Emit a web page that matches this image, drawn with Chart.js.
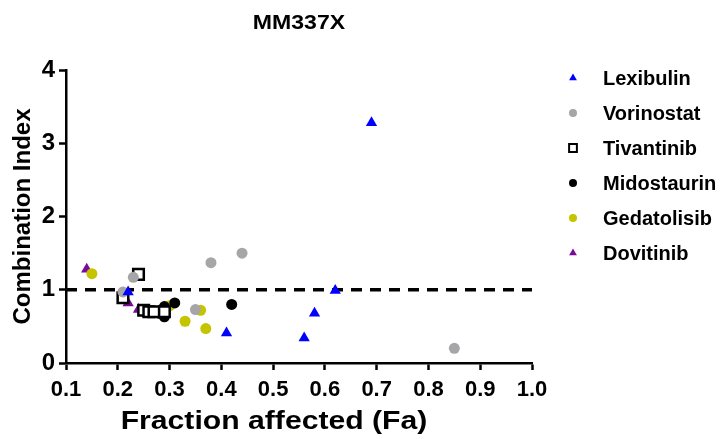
<!DOCTYPE html>
<html lang="en">
<head>
    <meta charset="UTF-8">
    <title>MM337X</title>
    <style>
        body {
            margin: 0;
            padding: 0;
            background: white;
        }
        .wrap {
            width: 724px;
            height: 439px;
            position: relative;
        }
    </style>
    <script src="https://cdn.jsdelivr.net/npm/chart.js"></script>
</head>
<body>
    <div class="wrap">
        <canvas id="ciChart" width="724" height="439"></canvas>
    </div>

    <script>
        // values: fraction affected (Fa) and combination index (CI)
        const chartTitle = 'MM337X';
        const xTitle = 'Fraction affected (Fa)';
        const yTitle = 'Combination Index';
        const drugNames = ['Lexibulin', 'Vorinostat', 'Tivantinib', 'Midostaurin', 'Gedatolisib', 'Dovitinib'];

        const lexibulinFa = [0.22, 0.41, 0.56, 0.58, 0.62, 0.69];
        const lexibulinCi = [0.97, 0.41, 0.34, 0.68, 0.99, 3.28];

        const vorinostatFa = [0.21, 0.23, 0.35, 0.38, 0.44, 0.85];
        const vorinostatCi = [0.97, 1.17, 0.73, 1.37, 1.50, 0.20];

        const tivantinibFa = [0.21, 0.24, 0.25, 0.26, 0.27, 0.29];
        const tivantinibCi = [0.89, 1.21, 0.72, 0.70, 0.70, 0.70];

        const midostaurinFa = [0.26, 0.28, 0.29, 0.29, 0.31, 0.42];
        const midostaurinCi = [0.70, 0.68, 0.63, 0.77, 0.82, 0.80];

        const gedatolisibFa = [0.15, 0.30, 0.33, 0.36, 0.37];
        const gedatolisibCi = [1.22, 0.78, 0.57, 0.72, 0.47];

        const dovitinibFa = [0.14, 0.22, 0.24, 0.25];
        const dovitinibCi = [1.28, 0.82, 0.73, 0.70];

        const xTicks = [0.1, 0.2, 0.3, 0.4, 0.5, 0.6, 0.7, 0.8, 0.9, 1.0];
        const yTicks = [0, 1, 2, 3, 4];
        const additivityLine = 1;

        const toPoints = (xs, ys) => xs.map((x, i) => ({ x: x, y: ys[i] }));

        const styles = [
            { color: '#0000ff', fill: '#0000ff', shape: 'triangle', r: 6.5, lr: 4.5, bw: 0 },
            { color: '#a6a6a9', fill: '#a6a6a9', shape: 'circle', r: 5.5, lr: 4, bw: 0 },
            { color: '#000000', fill: '#ffffff', shape: 'rect', r: 7.5, lr: 5.5, bw: 2.5 },
            { color: '#000000', fill: '#000000', shape: 'circle', r: 5.5, lr: 4, bw: 0 },
            { color: '#c4c400', fill: '#c4c400', shape: 'circle', r: 5.5, lr: 4, bw: 0 },
            { color: '#7b0a9a', fill: '#7b0a9a', shape: 'triangle', r: 6.5, lr: 4.5, bw: 0 }
        ];

        const seriesData = [
            toPoints(lexibulinFa, lexibulinCi),
            toPoints(vorinostatFa, vorinostatCi),
            toPoints(tivantinibFa, tivantinibCi),
            toPoints(midostaurinFa, midostaurinCi),
            toPoints(gedatolisibFa, gedatolisibCi),
            toPoints(dovitinibFa, dovitinibCi)
        ];

        const datasets = drugNames.map((name, i) => ({
            label: name,
            data: seriesData[i],
            showLine: false,
            pointStyle: styles[i].shape,
            pointRadius: styles[i].r,
            pointHoverRadius: styles[i].r,
            pointBackgroundColor: styles[i].fill,
            pointBorderColor: styles[i].color,
            pointBorderWidth: styles[i].bw,
            order: 0
        }));

        datasets.push({
            label: 'CI = 1',
            type: 'line',
            data: [{ x: xTicks[0], y: additivityLine }, { x: xTicks[xTicks.length - 1], y: additivityLine }],
            borderColor: '#000',
            borderWidth: 3.5,
            borderDash: [11, 8],
            pointRadius: 0,
            order: 1
        });

        const FONT = '"Liberation Sans", Arial, sans-serif';

        // legend on the right, title on top and x title (the original text is drawn a bit wide)
        const extras = {
            id: 'extras',
            afterDraw(chart) {
                const ctx = chart.ctx;
                const area = chart.chartArea;
                ctx.save();
                ctx.textBaseline = 'middle';
                ctx.font = 'bold 20px ' + FONT;
                drugNames.forEach((name, i) => {
                    const y = 78 + i * 35;
                    const s = styles[i];
                    ctx.fillStyle = s.fill;
                    ctx.strokeStyle = s.color;
                    ctx.lineWidth = s.bw ? 2 : 0;
                    Chart.helpers.drawPoint(ctx, {
                        pointStyle: s.shape,
                        radius: s.lr,
                        borderWidth: s.bw ? 2 : 0,
                        rotation: 0
                    }, 573, y);
                    ctx.fillStyle = '#000';
                    ctx.fillText(name, 603, y + 1);
                });

                ctx.textAlign = 'center';
                const cx = (area.left + area.right) / 2;

                ctx.save();
                ctx.translate(cx, 23);
                ctx.scale(1.1, 1);
                ctx.font = 'bold 21px ' + FONT;
                ctx.fillText(chartTitle, 0, 0);
                ctx.restore();

                ctx.save();
                ctx.translate(274, 422);
                ctx.scale(1.16, 1);
                ctx.font = 'bold 26px ' + FONT;
                ctx.fillText(xTitle, 0, 0);
                ctx.restore();

                ctx.restore();
            }
        };

        const boldFont = size => ({ family: FONT, size: size, weight: 'bold' });

        new Chart(document.getElementById('ciChart').getContext('2d'), {
            type: 'scatter',
            data: { datasets: datasets },
            plugins: [extras],
            options: {
                responsive: false,
                animation: false,
                layout: { padding: { top: 70, right: 192, left: 0, bottom: 0 } },
                plugins: {
                    legend: { display: false },
                    tooltip: { enabled: false },
                    title: { display: false }
                },
                scales: {
                    x: {
                        type: 'linear',
                        min: 0.1,
                        max: 1.0,
                        afterBuildTicks: scale => { scale.ticks = xTicks.map(v => ({ value: v })); },
                        afterFit: scale => { scale.height = 76; },
                        ticks: {
                            color: '#000',
                            font: boldFont(22),
                            padding: 7,
                            maxRotation: 0,
                            callback: v => v.toFixed(1)
                        },
                        grid: {
                            drawOnChartArea: false,
                            drawTicks: true,
                            tickLength: 7,
                            tickColor: '#000',
                            tickWidth: 2.5
                        },
                        border: { color: '#000', width: 2.5 },
                        title: { display: false }
                    },
                    y: {
                        min: 0,
                        max: 4,
                        afterBuildTicks: scale => { scale.ticks = yTicks.map(v => ({ value: v })); },
                        afterFit: scale => { scale.width = 66; },
                        ticks: {
                            color: '#000',
                            font: boldFont(24),
                            padding: 4
                        },
                        grid: {
                            drawOnChartArea: false,
                            drawTicks: true,
                            tickLength: 7,
                            tickColor: '#000',
                            tickWidth: 2.5
                        },
                        border: { color: '#000', width: 2.5 },
                        title: {
                            display: true,
                            text: yTitle,
                            color: '#000',
                            font: boldFont(24),
                            padding: { top: 9, bottom: 0 }
                        }
                    }
                }
            }
        });
    </script>
</body>
</html>
